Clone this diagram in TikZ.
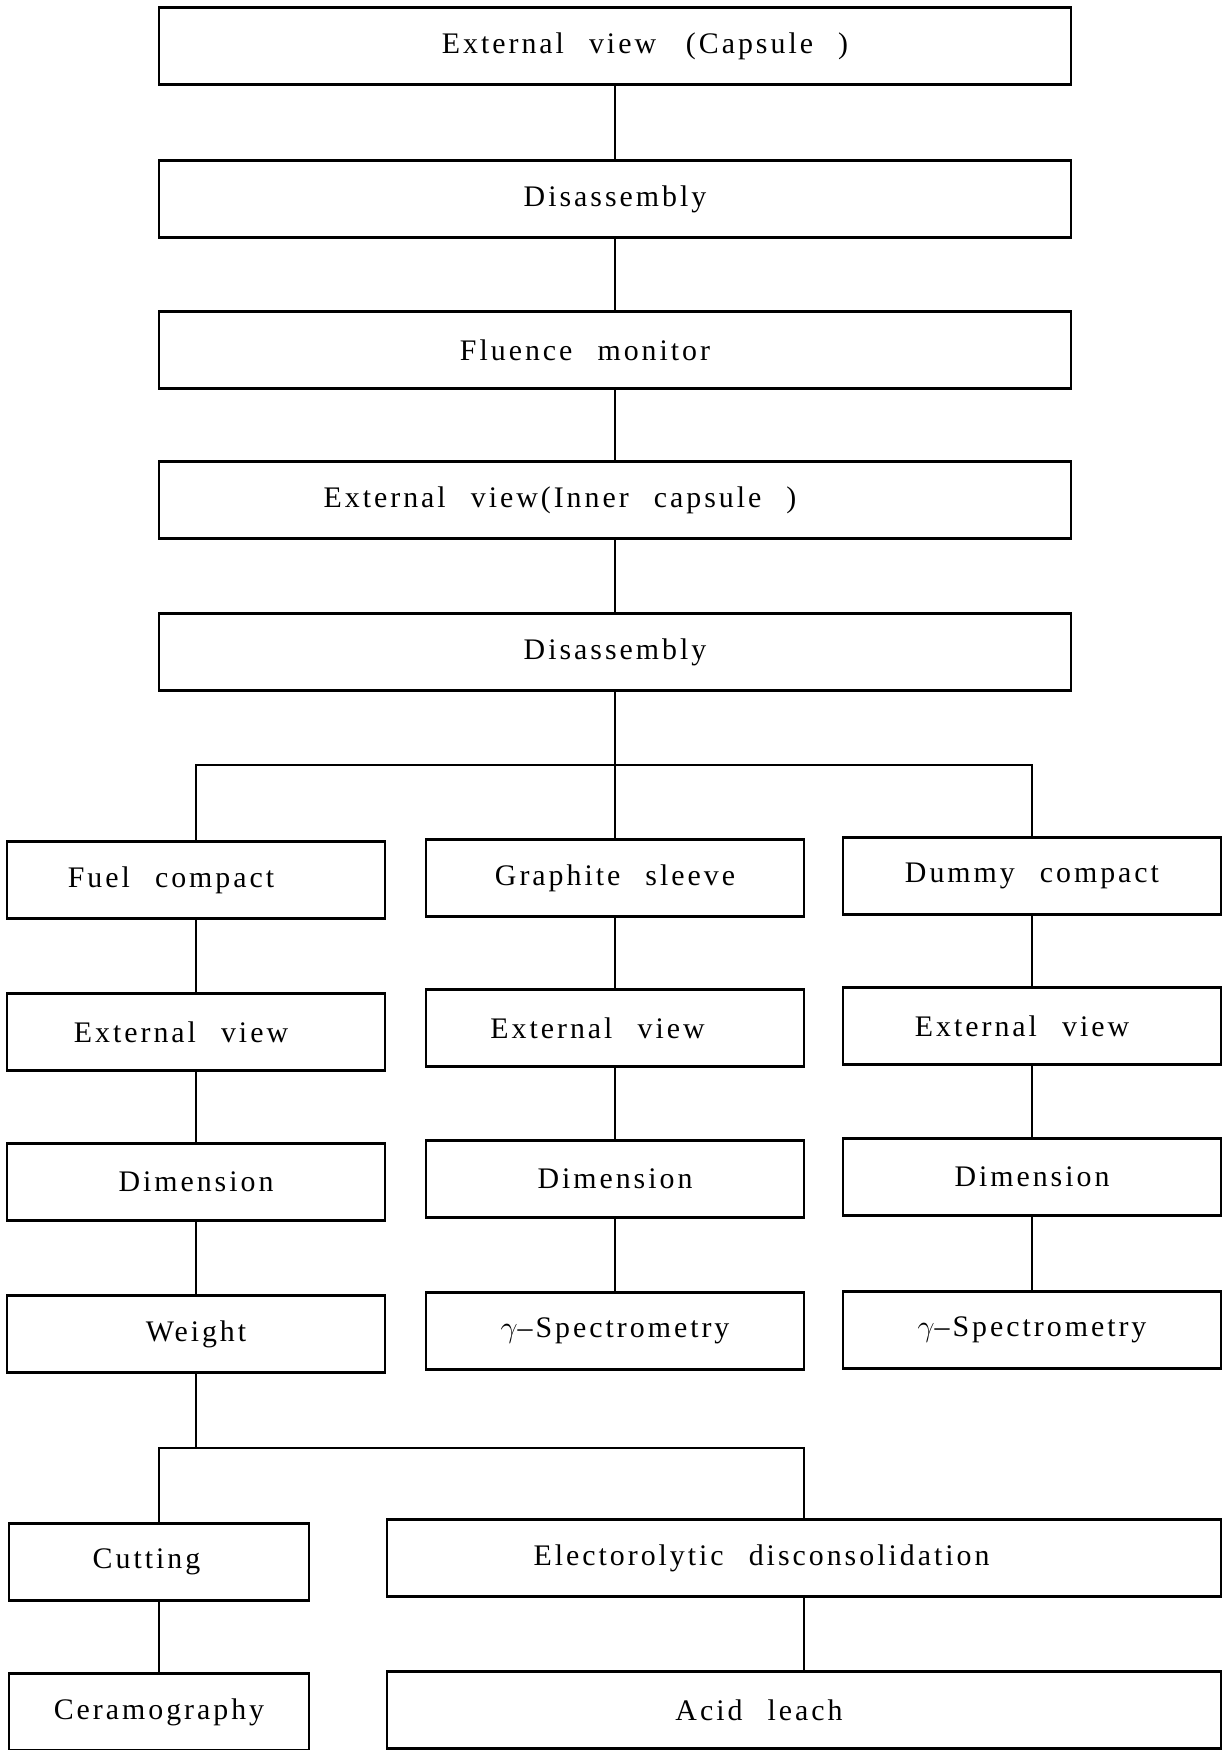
\documentclass[tikz,border=0pt]{standalone}
\usepackage{fontspec}
\setmainfont{Liberation Serif}[LetterSpace=10,WordSpace=2.4]

\begin{document}
\begin{tikzpicture}[x=0.02cm,y=-0.02cm,
    box/.style={draw,line width=1.3pt,minimum height=1.54cm,inner sep=0pt,
      font=\fontsize{17}{20}\selectfont},
    wide/.style={box,minimum width=18.24cm},
    col/.style={box,minimum width=7.56cm},
    link/.style={line width=0.7pt}]
    \useasboundingbox (0,0) rectangle (1228,1750);
    % main column
    \node[wide] (capsule) at (615,46) {\hspace*{1.2cm}External view\quad(Capsule )};
    \node[wide] (dis1) at (615,199) {Disassembly};
    \node[wide] (fluence) at (615,350) {Fluence monitor\hspace*{1.2cm}};
    \node[wide] (inner) at (615,500) {External view(Inner capsule )\hspace*{2.2cm}};
    \node[wide] (dis2) at (615,652) {Disassembly};
    \draw[link] (capsule) -- (dis1);
    \draw[link] (dis1) -- (fluence);
    \draw[link] (fluence) -- (inner);
    \draw[link] (inner) -- (dis2);
    % three branches
    \node[col] (fuel) at (196,880) {Fuel compact\hspace*{1cm}};
    \node[col] (fuelview) at (196,1032) {External view\hspace*{0.6cm}};
    \node[col] (fueldim) at (196,1182) {Dimension};
    \node[col] (weight) at (196,1334) {Weight};
    \node[col] (sleeve) at (615,878) {Graphite sleeve};
    \node[col] (sleeveview) at (615,1028) {External view\hspace*{0.7cm}};
    \node[col] (sleevedim) at (615,1179) {Dimension};
    \node[col] (sleevegam) at (615,1331) {$\gamma$--Spectrometry};
    \node[col] (dummy) at (1032,876) {Dummy compact};
    \node[col] (dummyview) at (1032,1026) {External view\hspace*{0.4cm}};
    \node[col] (dummydim) at (1032,1177) {Dimension};
    \node[col] (dummygam) at (1032,1330) {$\gamma$--Spectrometry};
    \coordinate (split) at (615,765);
    \draw[link] (dis2) -- (sleeve);
    \draw[link] (fuel.north) |- (split) -| (dummy.north);
    \draw[link] (fuel) -- (fuelview) -- (fueldim) -- (weight);
    \draw[link] (sleeve) -- (sleeveview) -- (sleevedim) -- (sleevegam);
    \draw[link] (dummy) -- (dummyview) -- (dummydim) -- (dummygam);
    % fuel compact tests
    \node[box,minimum width=6cm] (cutting) at (159,1562) {Cutting\hspace*{0.5cm}};
    \node[box,minimum width=6cm] (ceramo) at (159,1712) {Ceramography};
    \node[box,minimum width=16.68cm] (electro) at (804,1558) {Electorolytic disconsolidation\hspace*{1.7cm}};
    \node[box,minimum width=16.68cm] (acid) at (804,1710) {Acid leach\hspace*{1.8cm}};
    \coordinate (split2) at (196,1448);
    \draw[link] (weight) -- (split2);
    \draw[link] (cutting.north) |- (split2) -| (electro.north);
    \draw[link] (cutting) -- (ceramo);
    \draw[link] (electro) -- (acid);
\end{tikzpicture}
\end{document}
